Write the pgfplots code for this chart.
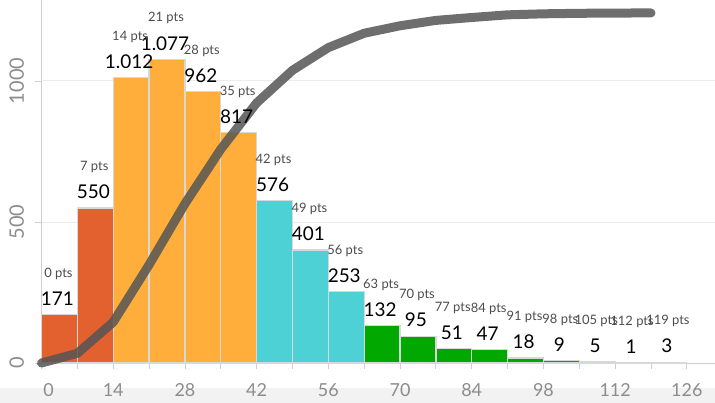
\documentclass[border=0pt]{standalone}
\usepackage{pgfplots}
\pgfplotsset{compat=1.18}
\usepackage{pgfplotstable}
\usepackage{fontspec}
\setmainfont{Lato}
\definecolor{cRed}{HTML}{E2612F}
\definecolor{cOrange}{HTML}{FFAE3B}
\definecolor{cCyan}{HTML}{4DD1D4}
\definecolor{cGreen}{HTML}{00A800}
\definecolor{cEdge}{HTML}{D8D8D8}
\definecolor{cTick}{HTML}{8C8C8C}
\definecolor{cAxis}{HTML}{CFCFCF}
\definecolor{cGrid}{HTML}{ECECEC}
\definecolor{cLine}{HTML}{555555}

\pgfplotstableread{
xc y lab pts
3.5 171 171 0
10.5 550 550 7
}\grpA
\pgfplotstableread{
xc y lab pts
17.5 1012 1.012 14
24.5 1077 1.077 21
31.5 962 962 28
38.5 817 817 35
}\grpB
\pgfplotstableread{
xc y lab pts
45.5 576 576 42
52.5 401 401 49
59.5 253 253 56
}\grpC
\pgfplotstableread{
xc y lab pts
66.5 132 132 63
73.5 95 95 70
80.5 51 51 77
87.5 47 47 84
94.5 18 18 91
101.5 9 9 98
108.5 5 5 105
115.5 1 1 112
122.5 3 3 119
}\grpD
\pgfplotstableread{
xc y lab pts
3.5 171 171 0
10.5 550 550 7
17.5 1012 1.012 14
24.5 1077 1.077 21
31.5 962 962 28
38.5 817 817 35
45.5 576 576 42
52.5 401 401 49
59.5 253 253 56
66.5 132 132 63
73.5 95 95 70
80.5 51 51 77
87.5 47 47 84
94.5 18 18 91
101.5 9 9 98
108.5 5 5 105
115.5 1 1 112
122.5 3 3 119
}\allbins
\pgfplotstableread{
x cum
0 0
7 171
14 721
21 1733
28 2810
35 3772
42 4589
49 5165
56 5566
63 5819
70 5951
77 6046
84 6097
91 6144
98 6162
105 6171
112 6176
119 6177
}\cumtab

\pgfplotsset{
  base/.style={
    scale only axis, width=673.5bp, height=363bp,
    at={(41.5bp,40bp)}, anchor=south west,
    xmin=0, xmax=131.5, clip=false,
  },
  bars/.style={ybar, bar width=7, bar shift=0pt, draw=cEdge, line width=1.3bp},
}

\begin{document}
\begin{tikzpicture}
\useasboundingbox (0,0) rectangle (715bp,403bp);
\fill[black!5] (0,0) rectangle (715bp,15bp);
% bars
\begin{axis}[base,
  ymin=0, ymax=1287,
  axis x line*=bottom, axis y line*=left,
  axis line style={draw=cAxis, line width=0.8bp},
  x axis line style={-}, y axis line style={-},
  xtick={0,14,...,126},
  xticklabels={\hspace*{14bp}0,14,28,42,56,70,84,98,112,126},
  minor xtick={7,21,...,119},
  ytick={0,500,1000},
  tick align=outside,
  major tick length=6bp, minor tick length=6bp,
  tick style={draw=cAxis, line width=0.8bp},
  ymajorgrids, grid style={draw=cGrid, line width=0.9bp},
  xticklabel style={font=\fontsize{18}{18}\selectfont, text=cTick, yshift=-11bp},
  yticklabel style={font=\fontsize{20}{20}\selectfont, text=cTick, rotate=90, anchor=south},
  yticklabel shift=8bp,
  /pgf/number format/assume math mode=true,
  /pgf/number format/1000 sep={},
]
\addplot[bars, fill=cRed] table[x=xc, y=y] {\grpA};
\addplot[bars, fill=cOrange] table[x=xc, y=y] {\grpB};
\addplot[bars, fill=cCyan] table[x=xc, y=y] {\grpC};
\addplot[bars, fill=cGreen] table[x=xc, y=y] {\grpD};
\end{axis}
% cumulative line
\begin{axis}[base, ymin=0, ymax=6406, hide axis]
\addplot[line width=9bp, color=cLine, opacity=0.85, line cap=round, line join=round] table[x=x, y=cum] {\cumtab};
\end{axis}
% labels
\begin{axis}[base, ymin=0, ymax=1287, hide axis]
\addplot[ybar, bar width=7, bar shift=0pt, draw=none, fill=none,
  point meta=explicit symbolic,
  nodes near coords={\pgfplotspointmeta},
  nodes near coords style={font=\fontsize{19}{19}\selectfont, text=black, anchor=center, yshift=16bp, xshift=-2bp}]
  table[x=xc, y=y, meta=lab] {\allbins};
\addplot[ybar, bar width=7, bar shift=0pt, draw=none, fill=none,
  point meta=explicit symbolic,
  nodes near coords={\pgfplotspointmeta{} pts},
  nodes near coords style={font=\fontsize{13}{13}\selectfont, text=black!70, anchor=center, yshift=41bp, xshift=-1bp}]
  table[x=xc, y=y, meta=pts] {\allbins};
\end{axis}
\end{tikzpicture}
\end{document}
